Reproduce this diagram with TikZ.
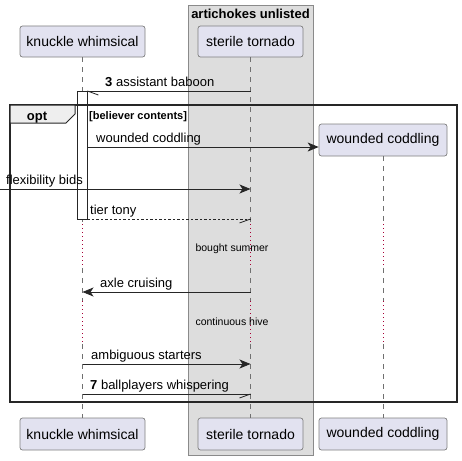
\documentclass[tikz,border=0pt]{standalone}
\usepackage{fontspec}
\setmainfont{Liberation Sans}
\usetikzlibrary{arrows.meta}
\definecolor{partfill}{HTML}{E2E2F0}
\definecolor{partdraw}{HTML}{7F7F7F}
\definecolor{boxfill}{HTML}{DDDDDD}
\definecolor{boxdraw}{HTML}{8A8A8A}
\definecolor{lifecol}{HTML}{707070}
\definecolor{delayred}{HTML}{A80036}
\definecolor{tabfill}{HTML}{EEEEEE}
\begin{document}
\begin{tikzpicture}[x=1pt,y=-1pt,
  participant/.style={draw=partdraw, fill=partfill, rounded corners=2.5pt, minimum height=31pt, inner sep=0pt, line width=0.7pt, font=\fontsize{14}{16}\selectfont},
  lifedash/.style={draw=lifecol, line width=0.6pt, dash pattern=on 5pt off 5pt},
  lifedot/.style={draw=delayred, line width=0.8pt, dash pattern=on 1pt off 3pt},
  msg/.style={draw=black!85, line width=0.8pt},
  msgfill/.style={msg, -{Stealth[length=11pt,width=9pt,inset=3pt]}},
  halfhead/.style={draw=black!85, line width=0.8pt},
  msglabel/.style={anchor=base west, inner sep=0pt, font=\fontsize{13}{15}\selectfont},
  delaylabel/.style={inner sep=0pt, font=\fontsize{10.5}{12}\selectfont}
]
\useasboundingbox (0,0) rectangle (462,460);

% group box
\path[fill=boxfill, draw=boxdraw, line width=0.8pt] (188,5) rectangle (313,455);
\node[inner sep=0pt, font=\fontsize{13}{15}\selectfont\bfseries, anchor=base] (grp) at (250.5,19) {artichokes unlisted};

% participants
\node[participant, minimum width=125pt] (kwT) at (82.5,41.5) {knuckle whimsical};
\node[participant, minimum width=105pt] (stT) at (250.5,41.5) {sterile tornado};
\node[participant, minimum width=128pt, minimum height=32pt] (wcT) at (383,140) {wounded coddling};
\node[participant, minimum width=125pt, minimum height=32pt] (kwB) at (82.5,434) {knuckle whimsical};
\node[participant, minimum width=105pt, minimum height=32pt] (stB) at (250.5,434) {sterile tornado};
\node[participant, minimum width=128pt, minimum height=32pt] (wcB) at (383,434) {wounded coddling};

% lifeline coordinates
\foreach \n/\x in {kw/82.5, st/250.5, wc/383} {
  \coordinate (\n d1) at (\x,224);
  \coordinate (\n d2) at (\x,268);
  \coordinate (\n d3) at (\x,301);
  \coordinate (\n d4) at (\x,344);
}
% lifelines
\draw[lifedash] (kwT.south) -- (kwd1);
\draw[lifedot] (kwd1) -- (kwd2);
\draw[lifedash] (kwd2) -- (kwd3);
\draw[lifedot] (kwd3) -- (kwd4);
\draw[lifedash] (kwd4) -- (kwB.north);
\draw[lifedash] (stT.south) -- (std1);
\draw[lifedot] (std1) -- (std2);
\draw[lifedash] (std2) -- (std3);
\draw[lifedot] (std3) -- (std4);
\draw[lifedash] (std4) -- (stB.north);
\draw[lifedash] (wcT.south) -- (wcd1);
\draw[lifedot] (wcd1) -- (wcd2);
\draw[lifedash] (wcd2) -- (wcd3);
\draw[lifedot] (wcd3) -- (wcd4);
\draw[lifedash] (wcd4) -- (wcB.north);

% activation
\node[draw=black!85, fill=white, line width=0.8pt, minimum width=10pt, minimum height=128pt, inner sep=0pt] (act) at (82,155) {};

% opt frame
\node[draw=black!85, line width=1.6pt, minimum width=447pt, minimum height=297pt, inner sep=0pt] (opt) at (233.5,253.5) {};
\path[fill=tabfill, draw=black!85, line width=1pt] (10,105) -- (75,105) -- (75,114) -- (66,123) -- (10,123) -- cycle;
\node[inner sep=0pt, anchor=base, font=\fontsize{13}{15}\selectfont\bfseries] (optlbl) at (37,120) {opt};
\node[inner sep=0pt, anchor=base west, font=\fontsize{11}{13}\selectfont\bfseries] (guard) at (89,119) {[believer contents]};

% message endpoints
\coordinate (m1s) at (250.5,91);  \coordinate (m1e) at (act.east |- m1s);
\coordinate (m2s) at (act.east |- 0,147);
\coordinate (m3s) at (0,189); \coordinate (m3e) at (250.5,189);
\coordinate (m4s) at (act.east |- 0,219); \coordinate (m4e) at (250.5,219);
\coordinate (m6s) at (250.5,292); \coordinate (m6e) at (82.5,292);
\coordinate (m8s) at (82.5,364); \coordinate (m8e) at (250.5,364);
\coordinate (m9s) at (82.5,394); \coordinate (m9e) at (250.5,394);

% messages
\draw[msg] (m1s) -- (m1e);
\draw[halfhead] (m1e) -- ++(11,4);
\node[msglabel] (l1) at (105,86) {\textbf{3} assistant baboon};

\draw[msgfill] (m2s) -- (wcT.west |- m2s);
\node[msglabel] (l2) at (96,142) {wounded coddling};

\draw[msgfill] (m3s) -- (m3e);
\node[msglabel] (l3) at (6,184) {flexibility bids};

\draw[msg, dash pattern=on 2.5pt off 2pt] (m4s) -- (m4e);
\draw[halfhead] (m4e) -- ++(-11,4);
\node[msglabel] (l4) at (90,214) {tier tony};

\node[delaylabel] (d1) at (232,249) {bought summer};

\draw[msgfill] (m6s) -- (m6e);
\node[msglabel] (l6) at (100,287) {axle cruising};

\node[delaylabel] (d2) at (232,322) {continuous hive};

\draw[msgfill] (m8s) -- (m8e);
\node[msglabel] (l8) at (91,359) {ambiguous starters};

\draw[msg] (m9s) -- (m9e);
\draw[halfhead] (m9e) -- ++(-11,4);
\node[msglabel] (l9) at (90,389) {\textbf{7} ballplayers whispering};
\end{tikzpicture}
\end{document}
